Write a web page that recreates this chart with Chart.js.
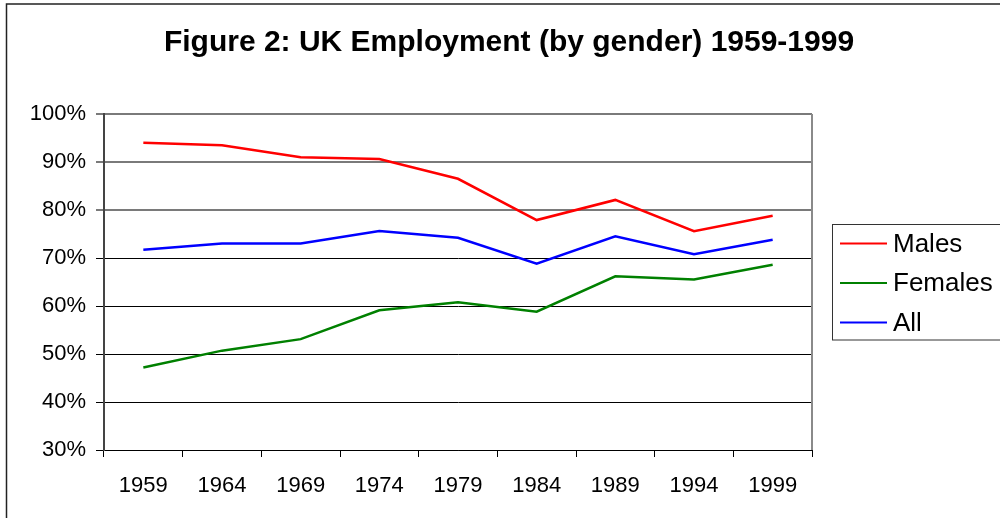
<!DOCTYPE html>
<html>
<head>
<meta charset="utf-8">
<script src="https://cdn.jsdelivr.net/npm/chart.js@4/dist/chart.umd.min.js"></script>
<style>
  html, body { margin: 0; padding: 0; background: #fff; }
  #wrap { width: 1000px; height: 518px; position: relative; }
</style>
</head>
<body>
<div id="wrap"><canvas id="chart" width="1000" height="518"></canvas></div>
<script>
/* UK employment rate by gender, 1959-1999 */
const years = ['1959', '1964', '1969', '1974', '1979', '1984', '1989', '1994', '1999'];
const males   = [94.0, 93.5, 91.0, 90.6, 86.5, 77.9, 82.1, 75.6, 78.8];
const females = [47.2, 50.7, 53.1, 59.1, 60.8, 58.8, 66.2, 65.5, 68.6];
const all     = [71.7, 73.0, 73.0, 75.6, 74.2, 68.8, 74.5, 70.8, 73.8];

const TITLE = 'Figure 2: UK Employment (by gender) 1959-1999';
const FONT = '"Liberation Sans", Arial, Helvetica, sans-serif';

// frame, title, right edge of plot, legend box
const decor = {
  id: 'decor',
  beforeDraw(chart) {
    const c = chart.ctx;
    c.save();
    c.fillStyle = '#fff';
    c.fillRect(0, 0, chart.width, chart.height);
    c.restore();
  },
  afterDraw(chart) {
    const c = chart.ctx;
    const a = chart.chartArea;
    c.save();
    // outer frame (runs off the right and bottom like the original)
    c.strokeStyle = '#222';
    c.lineWidth = 1.5;
    c.strokeRect(6.5, 4, 1100, 600);

    // title
    c.fillStyle = '#000';
    c.font = 'bold 30px ' + FONT;
    c.textAlign = 'center';
    c.textBaseline = 'middle';
    c.fillText(TITLE, 509, 43);

    // right edge of plot
    c.strokeStyle = '#8a8a8a';
    c.lineWidth = 2;
    c.beginPath();
    c.moveTo(a.right, a.top);
    c.lineTo(a.right, a.bottom);
    c.stroke();

    // legend
    c.strokeStyle = '#333';
    c.lineWidth = 1;
    c.strokeRect(832.5, 224.5, 220, 115.5);
    c.font = '26px ' + FONT;
    c.textAlign = 'left';
    chart.data.datasets.forEach((ds, i) => {
      const y = 243.5 + i * 39.5;
      c.strokeStyle = ds.borderColor;
      c.lineWidth = 2;
      c.beginPath();
      c.moveTo(840, y);
      c.lineTo(887, y);
      c.stroke();
      c.fillStyle = '#000';
      c.fillText(ds.label, 893, y + 1);
    });
    c.restore();
  }
};

new Chart(document.getElementById('chart'), {
  type: 'line',
  data: {
    labels: years,
    datasets: [
      { label: 'Males',   data: males,   borderColor: '#ff0000' },
      { label: 'Females', data: females, borderColor: '#008000' },
      { label: 'All',     data: all,     borderColor: '#0000ff' },
    ].map(d => Object.assign(d, { borderWidth: 2.5, pointRadius: 0, tension: 0, fill: false })),
  },
  options: {
    responsive: false,
    animation: false,
    events: [],
    layout: { padding: { top: 114, right: 188, bottom: 0, left: 0 } },
    plugins: { legend: { display: false }, title: { display: false }, tooltip: { enabled: false } },
    scales: {
      x: {
        offset: true,
        afterFit: s => { s.height = 68; },
        grid: { offset: true, drawOnChartArea: false, drawTicks: true, tickLength: 7, color: '#000', lineWidth: 1 },
        border: { color: '#000', width: 1 },
        ticks: { color: '#000', font: { family: FONT, size: 22 }, padding: 16, maxRotation: 0 },
      },
      y: {
        min: 30,
        max: 100,
        afterFit: s => { s.width = 104; },
        grid: {
          tickLength: 8,
          color: ctx => (ctx.tick && ctx.tick.value >= 80 ? '#7a7a7a' : '#000'),
          lineWidth: ctx => (ctx.tick && ctx.tick.value >= 80 ? 2 : 1),
        },
        border: { color: '#444', width: 2 },
        ticks: {
          stepSize: 10,
          color: '#000',
          padding: 10,
          font: { family: FONT, size: 22 },
          callback: v => v + '%',
        },
      },
    },
  },
  plugins: [decor],
});
</script>
</body>
</html>
